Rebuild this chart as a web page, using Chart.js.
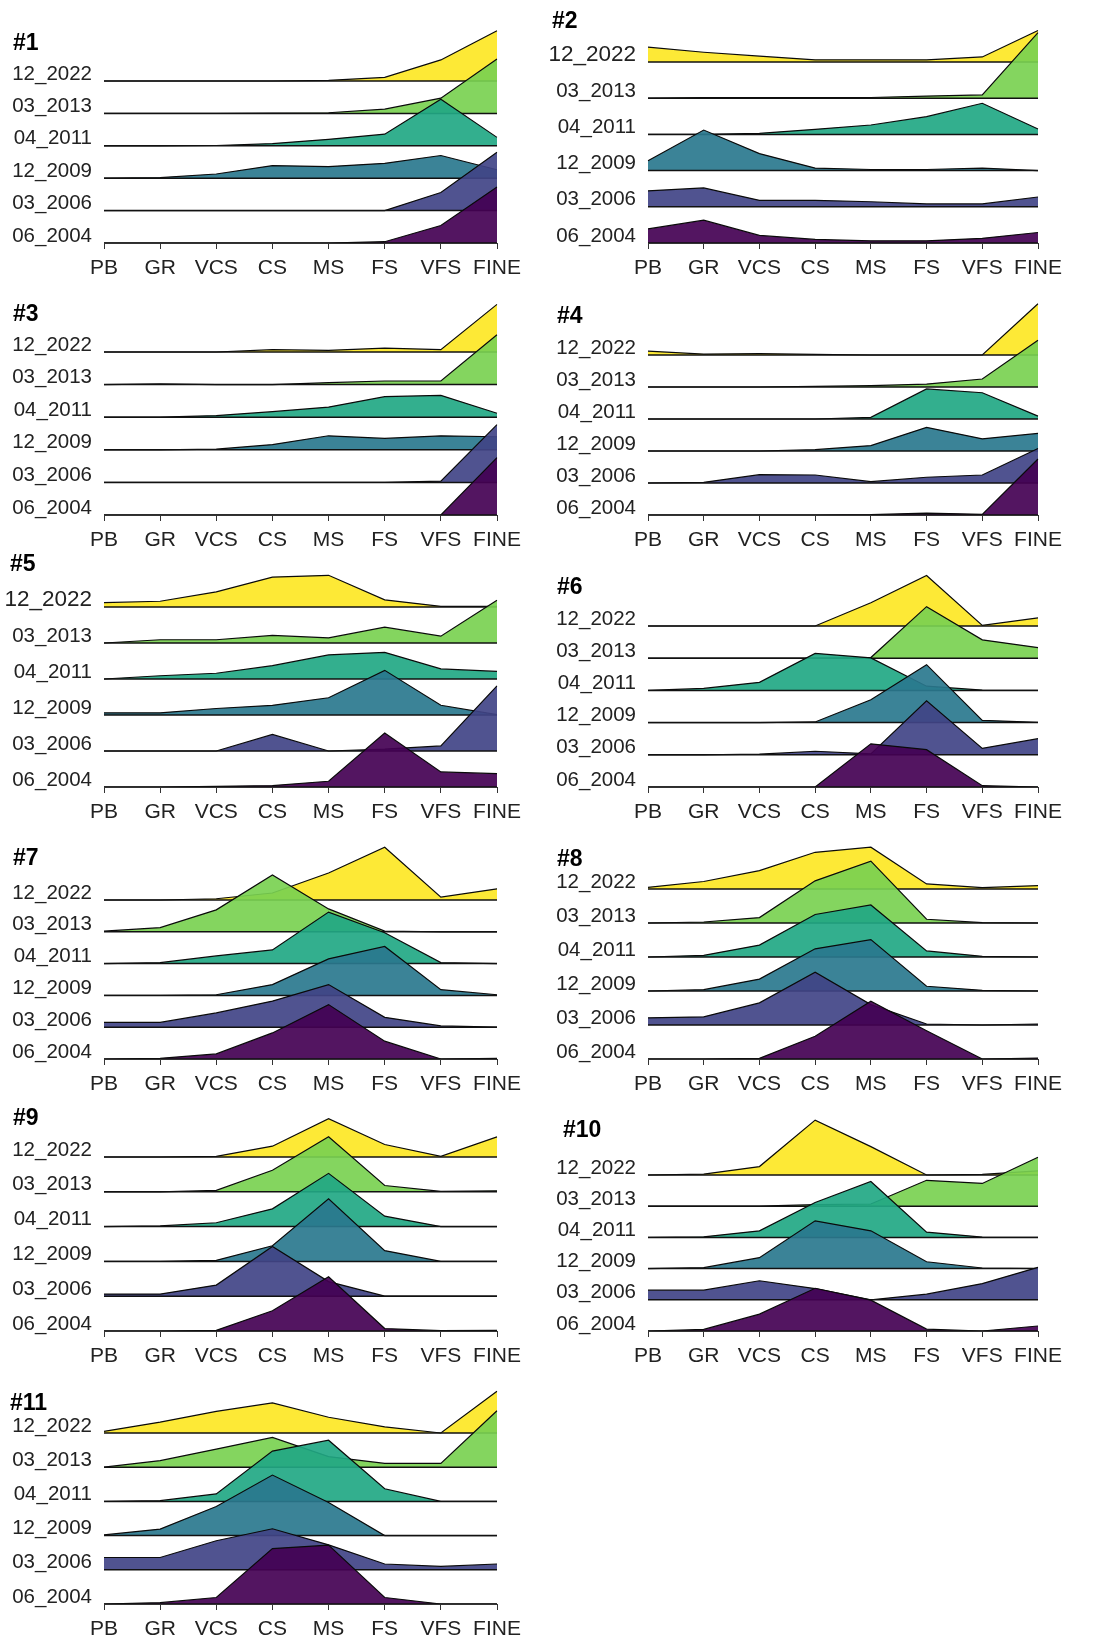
<!DOCTYPE html>
<html>
<head>
<meta charset="utf-8">
<script src="https://cdn.jsdelivr.net/npm/chart.js@4.4.1/dist/chart.umd.min.js"></script>
<style>
  body { margin: 0; background: #fff; width: 1094px; height: 1638px; position: relative; overflow: hidden; }
  canvas { position: absolute; }
  .ttl { position: absolute; font: bold 23px "Liberation Sans", Arial, sans-serif; color: #000; line-height: 1; }
</style>
</head>
<body>
<script>
// grain size classes (x axis) and sampling dates (ridges, bottom to top)
var categories = ['PB', 'GR', 'VCS', 'CS', 'MS', 'FS', 'VFS', 'FINE'];
var ridgeNames = ['06_2004', '03_2006', '12_2009', '04_2011', '03_2013', '12_2022'];

// ridge heights per station, rows: 06_2004, 03_2006, 12_2009, 04_2011, 03_2013, 12_2022
var st1 = [
    [0, 0, 0, 0, 0, 0.04, 0.54, 1.73],
    [0, 0, 0, 0, 0, 0, 0.56, 1.8],
    [0, 0.02, 0.13, 0.39, 0.36, 0.46, 0.7, 0.26],
    [0, 0, 0.01, 0.07, 0.2, 0.36, 1.44, 0.26],
    [0, 0, 0, 0.01, 0.02, 0.13, 0.47, 1.68],
    [0, 0, 0, 0, 0.02, 0.11, 0.65, 1.55]
];
var st2 = [
    [0.39, 0.63, 0.21, 0.1, 0.06, 0.06, 0.13, 0.29],
    [0.44, 0.52, 0.18, 0.18, 0.14, 0.08, 0.08, 0.27],
    [0.27, 1.12, 0.47, 0.07, 0.03, 0.03, 0.07, 0],
    [0, 0, 0.03, 0.14, 0.26, 0.49, 0.86, 0.15],
    [0, 0.02, 0.02, 0.02, 0.02, 0.06, 0.09, 1.81],
    [0.41, 0.27, 0.16, 0.06, 0.06, 0.06, 0.14, 0.87]
];
var st3 = [
    [0, 0, 0, 0, 0, 0, 0, 1.76],
    [0, 0, 0, 0, 0, 0, 0.04, 1.77],
    [0, 0, 0.02, 0.16, 0.43, 0.35, 0.43, 0.4],
    [0, 0, 0.05, 0.17, 0.31, 0.63, 0.67, 0.12],
    [0, 0.02, 0, 0, 0.06, 0.11, 0.11, 1.53],
    [0, 0, 0, 0.07, 0.05, 0.12, 0.07, 1.46]
];
var st4 = [
    [0, 0, 0, 0, 0.01, 0.06, 0.02, 1.75],
    [0, 0.02, 0.26, 0.25, 0.04, 0.18, 0.25, 1.08],
    [0, 0, 0, 0.04, 0.17, 0.74, 0.38, 0.55],
    [0, 0, 0, 0, 0.05, 0.94, 0.82, 0.09],
    [0, 0, 0, 0.02, 0.04, 0.09, 0.25, 1.46],
    [0.12, 0.03, 0.04, 0.02, 0, 0, 0, 1.6]
];
var st5 = [
    [0, 0, 0.02, 0.04, 0.16, 1.5, 0.42, 0.37],
    [0, 0, 0, 0.46, 0, 0.05, 0.14, 1.81],
    [0.06, 0.06, 0.18, 0.27, 0.48, 1.24, 0.27, 0.01],
    [0, 0.09, 0.16, 0.37, 0.67, 0.74, 0.28, 0.21],
    [0, 0.09, 0.09, 0.21, 0.14, 0.44, 0.19, 1.19],
    [0.12, 0.16, 0.42, 0.83, 0.88, 0.2, 0.02, 0.02]
];
var st6 = [
    [0, 0, 0, 0, 1.34, 1.16, 0.04, 0],
    [0, 0, 0.02, 0.11, 0.03, 1.68, 0.2, 0.5],
    [0, 0, 0, 0.02, 0.71, 1.8, 0.07, 0.01],
    [0, 0.06, 0.25, 1.15, 1.01, 0.13, 0.01, 0],
    [0, 0, 0, 0, 0.02, 1.6, 0.57, 0.33],
    [0, 0, 0, 0, 0.72, 1.57, 0.02, 0.25]
];
var st7 = [
    [0, 0.02, 0.16, 0.82, 1.71, 0.56, 0, 0.02],
    [0.15, 0.15, 0.45, 0.82, 1.34, 0.31, 0.04, 0],
    [0, 0, 0.02, 0.34, 1.15, 1.54, 0.18, 0.02],
    [0, 0.03, 0.24, 0.43, 1.62, 0.97, 0.03, 0],
    [0.02, 0.13, 0.69, 1.79, 0.72, 0.02, 0, 0],
    [0, 0, 0.04, 0.22, 0.85, 1.66, 0.09, 0.35]
];
var st8 = [
    [0, 0, 0.02, 0.67, 1.7, 0.83, 0, 0.03],
    [0.21, 0.24, 0.65, 1.55, 0.6, 0.03, 0, 0.03],
    [0, 0.04, 0.35, 1.24, 1.51, 0.14, 0.02, 0],
    [0, 0.05, 0.35, 1.25, 1.53, 0.18, 0.02, 0],
    [0, 0.03, 0.16, 1.24, 1.82, 0.11, 0.01, 0],
    [0.05, 0.22, 0.54, 1.08, 1.23, 0.15, 0.04, 0.1]
];
var st9 = [
    [0, 0, 0.02, 0.58, 1.56, 0.07, 0.01, 0.02],
    [0.06, 0.06, 0.32, 1.43, 0.42, 0, 0, 0],
    [0, 0, 0.03, 0.45, 1.8, 0.31, 0, 0],
    [0, 0.02, 0.11, 0.51, 1.53, 0.3, 0, 0],
    [0, 0, 0.04, 0.62, 1.58, 0.18, 0.01, 0.03],
    [0, 0, 0.02, 0.31, 1.1, 0.36, 0.02, 0.58]
];
var st10 = [
    [0, 0.05, 0.54, 1.37, 0.99, 0.06, 0, 0.16],
    [0.31, 0.31, 0.61, 0.36, 0, 0.18, 0.52, 1.04],
    [0, 0.03, 0.35, 1.53, 1.21, 0.22, 0.02, 0],
    [0, 0.02, 0.21, 1.12, 1.79, 0.17, 0.01, 0],
    [0, 0, 0, 0.05, 0.07, 0.83, 0.73, 1.57],
    [0, 0.03, 0.27, 1.76, 0.91, 0, 0.02, 0.13]
];
var st11 = [
    [0, 0.04, 0.19, 1.62, 1.72, 0.19, 0, 0],
    [0.36, 0.36, 0.85, 1.2, 0.73, 0.17, 0.1, 0.17],
    [0.02, 0.19, 0.85, 1.77, 0.97, 0, 0, 0],
    [0, 0.02, 0.22, 1.47, 1.79, 0.37, 0, 0],
    [0, 0.19, 0.53, 0.87, 0.31, 0.11, 0.11, 1.65],
    [0.05, 0.32, 0.63, 0.88, 0.46, 0.18, 0, 1.22]
];

// viridis(6), bottom ridge first
var fills = ['rgba(68,1,84,0.92)', 'rgba(65,68,135,0.92)', 'rgba(42,120,142,0.92)',
             'rgba(34,168,132,0.92)', 'rgba(122,209,81,0.92)', 'rgba(253,231,37,0.92)'];

var FONT = '"Liberation Sans", Arial, sans-serif';

// page placement of each panel: column, top and bottom baselines, title spot
var panels = [
    { n: 1, rows: st1, col: 0, top: 81, bot: 243, tx: 13, ty: 42 },
    { n: 2, rows: st2, col: 1, top: 62, bot: 243, tx: 552, ty: 20, big: 22.5 },
    { n: 3, rows: st3, col: 0, top: 352, bot: 515, tx: 13, ty: 313 },
    { n: 4, rows: st4, col: 1, top: 355, bot: 515, tx: 557, ty: 315 },
    { n: 5, rows: st5, col: 0, top: 607, bot: 787, tx: 10, ty: 563, big: 22.5 },
    { n: 6, rows: st6, col: 1, top: 626, bot: 787, tx: 557, ty: 586 },
    { n: 7, rows: st7, col: 0, top: 900, bot: 1059, tx: 13, ty: 857 },
    { n: 8, rows: st8, col: 1, top: 889, bot: 1059, tx: 557, ty: 858 },
    { n: 9, rows: st9, col: 0, top: 1157, bot: 1331, tx: 13, ty: 1117 },
    { n: 10, rows: st10, col: 1, top: 1175, bot: 1331, tx: 563, ty: 1129 },
    { n: 11, rows: st11, col: 0, top: 1433, bot: 1604, tx: 10, ty: 1402 }
];

function makePanel(p) {
    var cx = p.col === 0 ? 0 : 545;
    var W = p.col === 0 ? 545 : 549;
    var left = p.col === 0 ? 104 : 648;
    var right = p.col === 0 ? 497 : 1038;
    var sp = (p.bot - p.top) / 5;
    var ctop = Math.round(p.top - 2 * sp - 30);
    var H = p.bot + 40 - ctop;
    var ymax = (p.bot - ctop - 30) / sp;

    var canvas = document.createElement('canvas');
    canvas.width = W;
    canvas.height = H;
    canvas.style.left = cx + 'px';
    canvas.style.top = ctop + 'px';
    document.body.appendChild(canvas);

    var ttl = document.createElement('div');
    ttl.className = 'ttl';
    ttl.textContent = '#' + p.n;
    ttl.style.left = p.tx + 'px';
    ttl.style.top = (p.ty - 11) + 'px';
    document.body.appendChild(ttl);

    // index 0 is drawn last, so the bottom ridge ends up in front
    var datasets = [];
    for (var r = 0; r < 6; r++) {
        datasets.push({
            data: categories.map(function () { return r; }),
            borderColor: '#111',
            borderWidth: 1.5,
            pointRadius: 0,
            fill: false
        });
        datasets.push({
            data: p.rows[r].map(function (v) { return r + v; }),
            borderColor: '#0a0a0a',
            borderWidth: 1.2,
            backgroundColor: fills[r],
            pointRadius: 0,
            tension: 0,
            fill: { value: r }
        });
    }

    new Chart(canvas.getContext('2d'), {
        type: 'line',
        data: { labels: categories, datasets: datasets },
        options: {
            responsive: false,
            animation: false,
            layout: { padding: { left: 0, top: 30, right: W - (right - cx), bottom: 0 } },
            plugins: { legend: { display: false }, tooltip: { enabled: false } },
            scales: {
                x: {
                    type: 'category',
                    offset: false,
                    afterFit: function (s) { s.height = 40; },
                    grid: { display: true, drawOnChartArea: false, drawTicks: true, tickLength: 6, color: '#333' },
                    border: { display: true, color: '#333' },
                    ticks: { color: '#222', padding: 7, maxRotation: 0, autoSkip: false, font: { family: FONT, size: 21 } }
                },
                y: {
                    type: 'linear',
                    min: 0,
                    max: ymax,
                    afterFit: function (s) { s.width = left - cx; },
                    afterBuildTicks: function (s) {
                        s.ticks = [0, 1, 2, 3, 4, 5].map(function (v) { return { value: v }; });
                    },
                    grid: { display: false, drawTicks: false },
                    border: { display: false },
                    ticks: {
                        color: '#222',
                        padding: 12,
                        labelOffset: -7,
                        autoSkip: false,
                        callback: function (v) { return ridgeNames[v]; },
                        font: function (c) {
                            var big = p.big && c.tick && c.tick.value === 5;
                            return { family: FONT, size: big ? p.big : 20.5 };
                        }
                    }
                }
            }
        }
    });
}

panels.forEach(makePanel);
</script>
</body>
</html>
